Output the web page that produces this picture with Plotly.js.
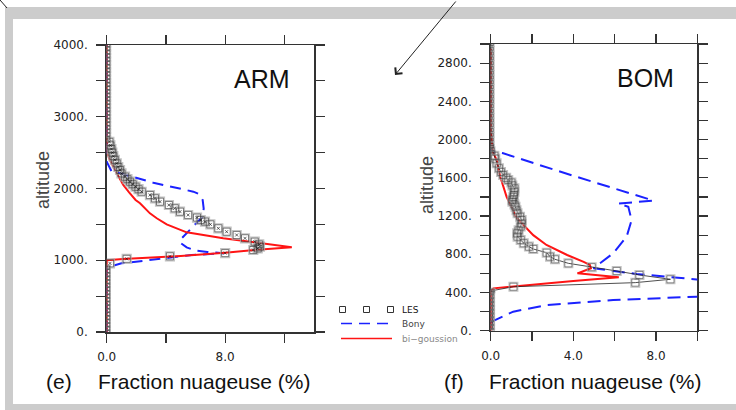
<!DOCTYPE html>
<html>
<head>
<meta charset="utf-8">
<script src="https://cdn.plot.ly/plotly-3.0.1.min.js"></script>
<style>html,body{margin:0;padding:0;background:#fff}#chart{width:736px;height:410px}</style>
</head>
<body>
<div id="chart"></div>
<script>
// ---------------- DATA ----------------
// ARM panel (e)
const armLesAlt = [0,50,100,150,200,250,300,350,400,450,500,550,600,650,700,750,800,850,900,
  957,1020,1055,1100,1143,1165,1189,1220,1259,1306,1352,1398,1445,1500,1538,1561,1595,1631,1677,1724,1770,1816,1863,1909,1955,1990,2025,2060,2095,2130,2165,2210,2258,2300,2350,2400,2450,2500,2550,2600,2650,
  2700,2750,2800,2850,2900,2950,3000,3050,3100,3150,3200,3250,3300,3350,3400,3450,3500,3550,3600,3650,3700,3750,3800,3850,3900,3950,4000];
const armLesVal = [0.1,0.1,0.1,0.1,0.1,0.1,0.1,0.1,0.1,0.1,0.1,0.1,0.1,0.1,0.1,0.1,0.1,0.1,0.1,
  0.22,1.35,4.27,8.0,9.9,10.2,10.35,10.3,10.0,9.34,8.78,8.1,7.54,7.0,6.64,6.35,6.1,5.5,4.95,4.6,4.2,3.6,3.26,2.92,2.36,2.15,1.95,1.75,1.57,1.4,1.24,1.0,0.9,0.78,0.68,0.55,0.45,0.38,0.32,0.25,0.18,
  0.11,0.11,0.11,0.11,0.11,0.11,0.11,0.11,0.11,0.11,0.11,0.11,0.11,0.11,0.11,0.11,0.11,0.11,0.11,0.11,0.11,0.11,0.11,0.11,0.11,0.11,0.11];
const armBonyAlt = [0,900,910,957,971,1003,1027,1050,1073,1090,1098,1115,1135,1180,1240,1282,1607,1720,1840,1925,1956,2081,2128,2165,2212,2234,2374,4000];
const armBonyVal = [0,0,0.22,1.0,1.6,3.0,3.7,5.06,5.74,7.3,7.9,6.8,6.0,5.4,5.0,4.95,6.48,6.55,6.48,6.2,5.85,3.15,2.36,1.69,0.9,0.34,0,0];
const armGaussAlt = [0,1000,1017,1060,1105,1140,1180,1240,1306,1389,1500,1585,1654,1794,1840,1950,2049,2212,2397,2490,2560,4000];
const armGaussVal = [0,0,1.1,5.0,8.0,9.8,12.5,10.1,7.87,5.4,4.05,3.38,2.92,2.25,1.95,1.5,1.12,0.68,0.22,0.05,0,0];

// BOM panel (f)
const bomLesAlt = [0,40,80,120,160,200,240,280,320,360,400,
  420,460,503,538,583,625,665,705,747,775,816,855,880,915,950,984,1019,1050,1090,1120,1158,1193,1228,1260,1298,1320,1350,1370,1400,1420,1454,1490,1520,1550,1577,1600,1629,1660,1700,1751,1800,1830,1865,1900,1925,
  1950,2000,2050,2100,2150,2200,2250,2300,2350,2400,2450,2500,2550,2600,2650,2700,2750,2800,2850,2900,2950,3000];
const bomLesVal = [0.08,0.08,0.08,0.08,0.08,0.08,0.08,0.08,0.08,0.08,0.08,
  0.1,1.1,7.0,8.7,7.2,6.1,4.89,3.76,3.11,2.87,2.71,2.06,1.85,1.6,1.45,1.3,1.28,1.35,1.45,1.5,1.5,1.42,1.3,1.25,1.2,1.15,1.05,1.05,1.1,1.12,1.15,1.15,1.05,1.0,0.85,0.75,0.6,0.5,0.4,0.29,0.22,0.18,0.13,0.1,0.06,
  0.06,0.06,0.06,0.06,0.06,0.06,0.06,0.06,0.06,0.06,0.06,0.06,0.06,0.06,0.06,0.06,0.06,0.06,0.06,0.06,0.06,0.06];
const bomBonyAlt = [90,112,199,269,321,356,372,525,537,593,653,810,984,1158,1297,1330,1362,1665,1856,1873,1890];
const bomBonyVal = [0,0.21,1.09,2.71,5.93,9.97,12,12,9.97,7.07,4.97,5.93,6.58,6.82,6.66,6.18,7.87,3.35,0.61,0.21,0];
const bomGaussAlt = [0,408,443,465,520,558,600,653,688,720,792,897,1000,1180,1400,1620,1786,1873,2000,2100,2950];
const bomGaussVal = [0,0,0.13,1.2,4.0,6.2,4.2,4.85,4.8,4.5,3.7,2.7,2.06,1.26,0.77,0.45,0.29,0.1,0.03,0,0];

// tick labels
const armXTicks = [0,4,8,12];
const armXText = ['0.0','','8.0',''];
const armYTicks = [0,500,1000,1500,2000,2500,3000,3500,4000];
const armYText = ['0.','','1000.','','2000.','','3000.','','4000.'];
const bomXTicks = [0,2,4,6,8,10];
const bomXText = ['0.0','','4.0','','8.0',''];
const bomYTicks = [0,200,400,600,800,1000,1200,1400,1600,1800,2000,2200,2400,2600,2800,3000];
const bomYText = ['0.','','400.','','800.','','1200.','','1600.','','2000.','','2400.','','2800.',''];

const panelNames = ['ARM','BOM'];
const panelLetters = ['(e)','(f)'];
const xTitle = 'Fraction nuageuse (%)';
const yTitle = 'altitude';
const legendNames = ['LES','Bony','bi\u2212goussion'];

// ---------------- STYLE ----------------
const RED = '#ff1414', BLUE = '#1b22ff';
const W = 736, H = 410;
const px = x => x / W, py = y => 1 - y / H;
const sizeBig = v => v.map(d => d < 0.15 ? 4 : 8.5);
const sizeSmall = v => v.map(d => d < 0.15 ? 3 : 7);

const traces = [
  // ARM
  {x: armBonyVal, y: armBonyAlt, xaxis:'x', yaxis:'y', mode:'lines', line:{color:BLUE, width:2, dash:'11px,7px'}},
  {x: armGaussVal, y: armGaussAlt, xaxis:'x', yaxis:'y', mode:'lines', line:{color:RED, width:2}},
  {x: armLesVal, y: armLesAlt, xaxis:'x', yaxis:'y', mode:'markers',
   marker:{symbol:'square-open', size:sizeBig(armLesVal), color:'#a9a9a9', line:{width:1.7, color:'#a9a9a9'}}},
  {x: armLesVal, y: armLesAlt, xaxis:'x', yaxis:'y', mode:'markers',
   marker:{symbol:'square-open', size:sizeSmall(armLesVal), color:'#222', line:{width:0.7, color:'#222'}}},
  {x: armLesVal, y: armLesAlt, xaxis:'x', yaxis:'y', mode:'markers',
   marker:{symbol:'x-thin-open', size:armLesVal.map(d => d < 0.15 ? 0 : 3), color:'#111', line:{width:0.9, color:'#111'}}},
  // BOM
  {x: bomBonyVal, y: bomBonyAlt, xaxis:'x2', yaxis:'y2', mode:'lines', line:{color:BLUE, width:2, dash:'13px,7px'}},
  {x: bomGaussVal, y: bomGaussAlt, xaxis:'x2', yaxis:'y2', mode:'lines', line:{color:RED, width:2}},
  {x: bomLesVal, y: bomLesAlt, xaxis:'x2', yaxis:'y2', mode:'lines+markers', line:{color:'#222', width:0.8},
   marker:{symbol:'square-open', size:sizeBig(bomLesVal), color:'#a9a9a9', line:{width:1.5, color:'#a9a9a9'}}},
  {x: bomLesVal, y: bomLesAlt, xaxis:'x2', yaxis:'y2', mode:'markers',
   marker:{symbol:'square-open', size:sizeSmall(bomLesVal), color:'#333', line:{width:0.7, color:'#333'}}}
];
traces.forEach(t => { t.showlegend = false; t.hoverinfo = 'skip'; });

const tickFont = {family:'DejaVu Sans, sans-serif', size:12, color:'#222'};
function axis(extra) {
  return Object.assign({
    showline:true, linecolor:'#333', linewidth:1.5, mirror:'ticks',
    ticks:'outside', ticklen:9, tickwidth:1.2, tickcolor:'#333',
    showgrid:false, zeroline:false, tickfont:tickFont, layer:'below traces',
    tickmode:'array', fixedrange:true
  }, extra);
}

const bigFont = {family:'Liberation Sans, Arial, sans-serif', size:21, color:'#111'};
const annotations = [
  {text:panelNames[0], x:px(261.5), y:py(79), font:{family:'Liberation Sans, Arial, sans-serif', size:25, color:'#111'}},
  {text:panelNames[1], x:px(645), y:py(78), font:{family:'Liberation Sans, Arial, sans-serif', size:25, color:'#111'}},
  {text:yTitle, x:px(43), y:py(180), textangle:-90, font:{family:'Liberation Sans, Arial, sans-serif', size:18, color:'#444'}},
  {text:yTitle, x:px(427), y:py(185), textangle:-90, font:{family:'Liberation Sans, Arial, sans-serif', size:18, color:'#444'}},
  {text:panelLetters[0], x:px(59), y:py(381), font:bigFont},
  {text:xTitle, x:px(204), y:py(381), font:bigFont},
  {text:panelLetters[1], x:px(454), y:py(381), font:bigFont},
  {text:xTitle, x:px(595), y:py(381), font:bigFont},
  {text:legendNames[0], x:px(400), y:py(309.5), xanchor:'left', font:{family:'DejaVu Sans, sans-serif', size:9, color:'#111'}},
  {text:legendNames[1], x:px(400), y:py(323.5), xanchor:'left', font:{family:'DejaVu Sans, sans-serif', size:9, color:'#444'}},
  {text:legendNames[2], x:px(400), y:py(338.5), xanchor:'left', font:{family:'DejaVu Sans, sans-serif', size:9, color:'#888'}},
  {text:'', x:px(395), y:py(75), showarrow:true, ax:62, ay:-78, axref:'pixel', ayref:'pixel',
   arrowhead:4, arrowsize:1.8, arrowwidth:1, arrowcolor:'#222'}
].map(a => Object.assign({xref:'paper', yref:'paper', showarrow:false, xanchor:'center', yanchor:'middle'}, a));

const shapes = [
  // grey frame
  {type:'rect', x0:px(5), x1:px(740), y0:py(414), y1:py(7), fillcolor:'#cccccc', line:{width:0}, layer:'below'},
  {type:'rect', x0:px(13), x1:px(740), y0:py(404), y1:py(19), fillcolor:'#ffffff', line:{width:0}, layer:'below'},
  {type:'line', x0:px(0), x1:px(7), y0:py(0), y1:py(8), line:{color:'#222', width:1}},
  // legend symbols
  {type:'rect', x0:px(339.5), x1:px(345.5), y0:py(312.5), y1:py(306.5), line:{color:'#333', width:1}},
  {type:'rect', x0:px(363.5), x1:px(369.5), y0:py(312.5), y1:py(306.5), line:{color:'#333', width:1}},
  {type:'rect', x0:px(387.5), x1:px(393.5), y0:py(312.5), y1:py(306.5), line:{color:'#333', width:1}},
  {type:'line', x0:px(341), x1:px(392), y0:py(323.5), y1:py(323.5), line:{color:BLUE, width:1.5, dash:'11px,7px'}},
  {type:'line', x0:px(341), x1:px(392), y0:py(338.5), y1:py(338.5), line:{color:RED, width:1.5}}
].map(s => Object.assign({xref:'paper', yref:'paper'}, s));

const layout = {
  width:W, height:H, margin:{l:0, r:0, t:0, b:0},
  paper_bgcolor:'#ffffff', plot_bgcolor:'rgba(0,0,0,0)', showlegend:false,
  xaxis: axis({domain:[px(106.7), px(314)], range:[0,14], anchor:'y', tickvals:armXTicks, ticktext:armXText, ticklabelstandoff:4}),
  yaxis: axis({domain:[py(332), py(45)], range:[0,4000], anchor:'x', tickvals:armYTicks, ticktext:armYText, ticklabelstandoff:6}),
  xaxis2: axis({domain:[px(490.7), px(697.3)], range:[0,10], anchor:'y2', tickvals:bomXTicks, ticktext:bomXText, ticklabelstandoff:4}),
  yaxis2: axis({domain:[py(330.7), py(44)], range:[0,3000], anchor:'x2', tickvals:bomYTicks, ticktext:bomYText, ticklabelstandoff:6}),
  annotations: annotations,
  shapes: shapes
};

Plotly.newPlot('chart', traces, layout, {staticPlot:true, displayModeBar:false});
</script>
</body>
</html>
